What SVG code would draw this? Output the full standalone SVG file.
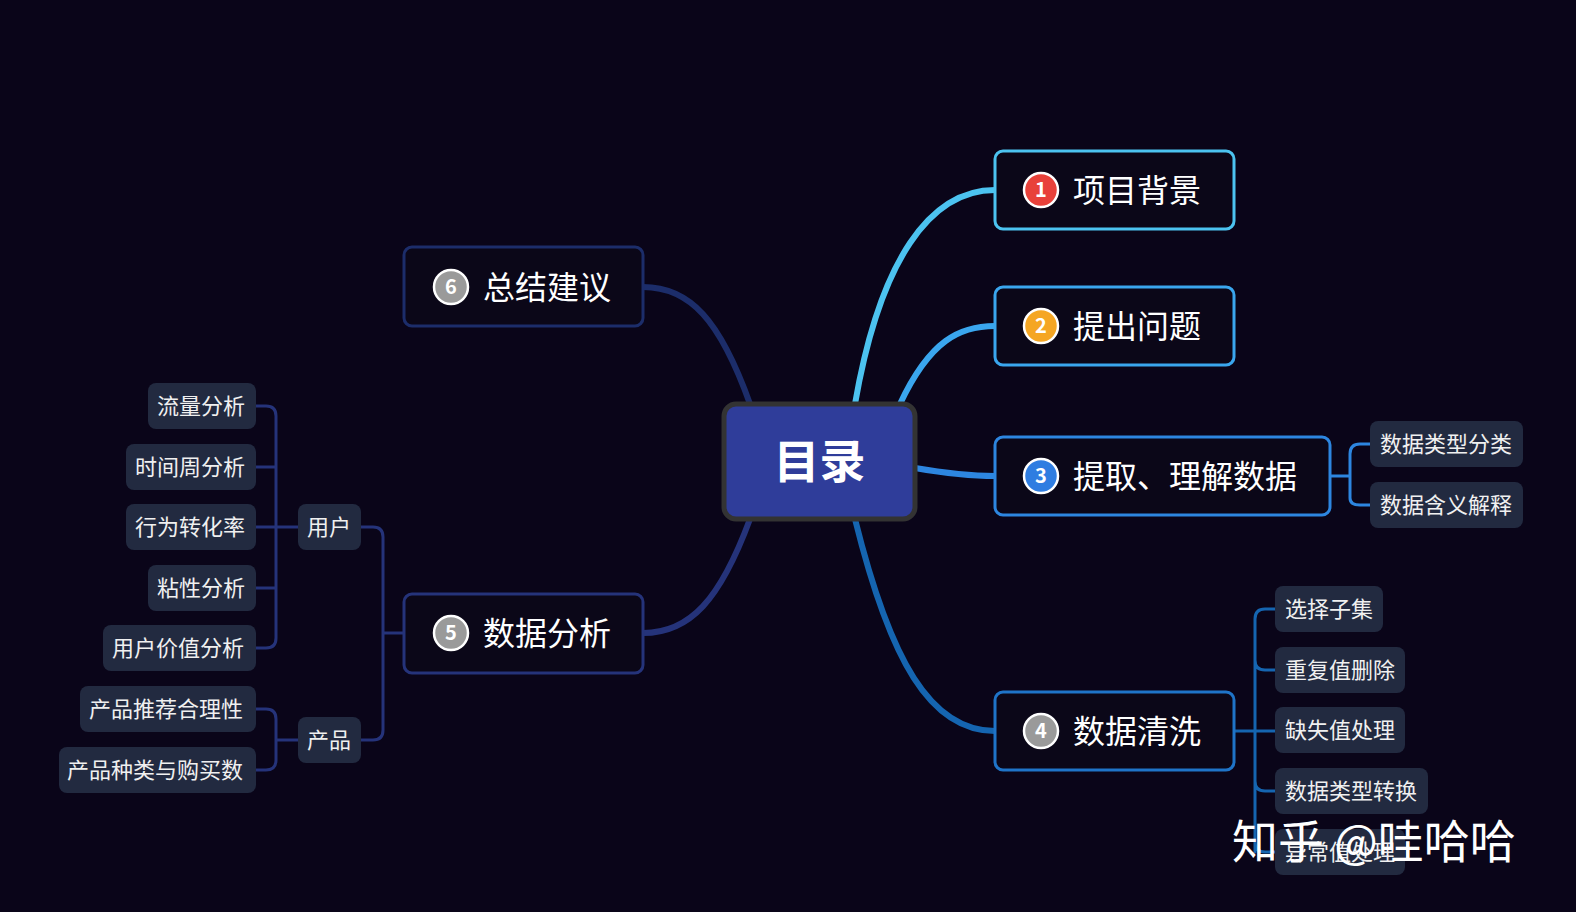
<svg xmlns="http://www.w3.org/2000/svg" width="1576" height="912" viewBox="0 0 1576 912">
<style>
text{font-family:"Noto Sans CJK SC","Noto Sans",sans-serif;fill:#fff}
.main{fill:#0b0718;stroke-width:3}
.main-t{font-size:32px}
.leaf{fill:#222a40}
.leaf-t{font-size:22px;fill:#f0f0f0}
.num{font-size:20px;font-weight:bold;text-anchor:middle}
.br{fill:none;stroke-width:3}
</style>
<rect width="1576" height="912" fill="#0a0519"/>
<g id="connectors" fill="none" stroke-linecap="round">
<path d="M855,404 C880,260 930,190 995,190" stroke="#4cc3f0" stroke-width="6"/>
<path d="M900,404 C930,340 960,326 995,326" stroke="#3aa6ee" stroke-width="6"/>
<path d="M915,468 C950,474 970,476 995,476" stroke="#2d86e0" stroke-width="6"/>
<path d="M855,519 C890,660 930,731 995,731" stroke="#1565b0" stroke-width="6"/>
<path d="M750,404 C720,320 690,287 643,287" stroke="#1c2d6a" stroke-width="6"/>
<path d="M750,519 C720,600 690,633 643,633" stroke="#25337a" stroke-width="6"/>
<g class="br" stroke="#2d86e0">
<path d="M1330,476 H1350 M1370,444 H1360 Q1350,444 1350,454 V498 Q1350,505 1360,505 H1370"/>
</g>
<g class="br" stroke="#1565b0">
<path d="M1234,731 H1275 M1275,609 H1265 Q1255,609 1255,619 V852 M1255,660 Q1255,670 1265,670 H1275 M1255,781 Q1255,791 1265,791 H1275 M1255,842 Q1255,852 1265,852 H1275"/>
</g>
<g class="br" stroke="#25337a">
<path d="M404,633 H383 M361,527 H373 Q383,527 383,537 V730 Q383,740 373,740 H361"/>
<path d="M298,527 H256 M256,406 H266 Q276,406 276,416 V638 Q276,648 266,648 H256 M256,467 H276 M256,588 H276"/>
<path d="M298,740 H276 M256,709 H266 Q276,709 276,719 V760 Q276,770 266,770 H256"/>
</g>
</g>
<g id="center"><rect x="724" y="404" width="191" height="115" rx="12" fill="#2f3d9a" stroke="#333" stroke-width="5"/><text x="819.5" y="478" font-size="46" font-weight="bold" text-anchor="middle">目录</text></g>
<g id="n1"><rect class="main" x="995" y="151" width="239" height="78" rx="8" stroke="#4cc3f0"/><circle cx="1041" cy="190" r="17" fill="#e8413a" stroke="#fff" stroke-width="2.5"/><text class="num" x="1041" y="197">1</text><text class="main-t" x="1073" y="202">项目背景</text></g>
<g id="n2"><rect class="main" x="995" y="287" width="239" height="78" rx="8" stroke="#3aa6ee"/><circle cx="1041" cy="326" r="17" fill="#f5a623" stroke="#fff" stroke-width="2.5"/><text class="num" x="1041" y="333">2</text><text class="main-t" x="1073" y="338">提出问题</text></g>
<g id="n3"><rect class="main" x="995" y="437" width="335" height="78" rx="8" stroke="#2d86e0"/><circle cx="1041" cy="476" r="17" fill="#2f7de1" stroke="#fff" stroke-width="2.5"/><text class="num" x="1041" y="483">3</text><text class="main-t" x="1073" y="488">提取、理解数据</text></g>
<g id="n4"><rect class="main" x="995" y="692" width="239" height="78" rx="8" stroke="#1f74c8"/><circle cx="1041" cy="731" r="17" fill="#9a9a9a" stroke="#fff" stroke-width="2.5"/><text class="num" x="1041" y="738">4</text><text class="main-t" x="1073" y="743">数据清洗</text></g>
<g id="n5"><rect class="main" x="404" y="594" width="239" height="79" rx="8" stroke="#25337a"/><circle cx="451" cy="633" r="17" fill="#9a9a9a" stroke="#fff" stroke-width="2.5"/><text class="num" x="451" y="640">5</text><text class="main-t" x="483" y="645">数据分析</text></g>
<g id="n6"><rect class="main" x="404" y="247" width="239" height="79" rx="8" stroke="#1c2d6a"/><circle cx="451" cy="287" r="17" fill="#9a9a9a" stroke="#fff" stroke-width="2.5"/><text class="num" x="451" y="294">6</text><text class="main-t" x="483" y="299">总结建议</text></g>
<g id="l31"><rect class="leaf" x="1370" y="421" width="153" height="46" rx="8"/><text class="leaf-t" x="1380" y="452">数据类型分类</text></g>
<g id="l32"><rect class="leaf" x="1370" y="482" width="153" height="46" rx="8"/><text class="leaf-t" x="1380" y="513">数据含义解释</text></g>
<g id="l41"><rect class="leaf" x="1275" y="586" width="108" height="46" rx="8"/><text class="leaf-t" x="1285" y="617">选择子集</text></g>
<g id="l42"><rect class="leaf" x="1275" y="647" width="130" height="46" rx="8"/><text class="leaf-t" x="1285" y="678">重复值删除</text></g>
<g id="l43"><rect class="leaf" x="1275" y="707" width="130" height="46" rx="8"/><text class="leaf-t" x="1285" y="738">缺失值处理</text></g>
<g id="l44"><rect class="leaf" x="1275" y="768" width="153" height="46" rx="8"/><text class="leaf-t" x="1285" y="799">数据类型转换</text></g>
<g id="l45"><rect class="leaf" x="1275" y="829" width="130" height="46" rx="8"/><text class="leaf-t" x="1285" y="860">异常值处理</text></g>
<g id="u"><rect class="leaf" x="298" y="504" width="63" height="46" rx="8"/><text class="leaf-t" x="307" y="535">用户</text></g>
<g id="p"><rect class="leaf" x="298" y="717" width="63" height="46" rx="8"/><text class="leaf-t" x="307" y="748">产品</text></g>
<g id="a1"><rect class="leaf" x="148" y="383" width="108" height="46" rx="8"/><text class="leaf-t" x="157" y="414">流量分析</text></g>
<g id="a2"><rect class="leaf" x="126" y="444" width="130" height="46" rx="8"/><text class="leaf-t" x="135" y="475">时间周分析</text></g>
<g id="a3"><rect class="leaf" x="126" y="504" width="130" height="46" rx="8"/><text class="leaf-t" x="135" y="535">行为转化率</text></g>
<g id="a4"><rect class="leaf" x="148" y="565" width="108" height="46" rx="8"/><text class="leaf-t" x="157" y="596">粘性分析</text></g>
<g id="a5"><rect class="leaf" x="103" y="625" width="153" height="46" rx="8"/><text class="leaf-t" x="112" y="656">用户价值分析</text></g>
<g id="b1"><rect class="leaf" x="80" y="686" width="176" height="46" rx="8"/><text class="leaf-t" x="89" y="717">产品推荐合理性</text></g>
<g id="b2"><rect class="leaf" x="59" y="747" width="197" height="46" rx="8"/><text class="leaf-t" x="67" y="778">产品种类与购买数</text></g>
<text x="1232" y="858" font-size="46">知乎 @哇哈哈</text>
</svg>
